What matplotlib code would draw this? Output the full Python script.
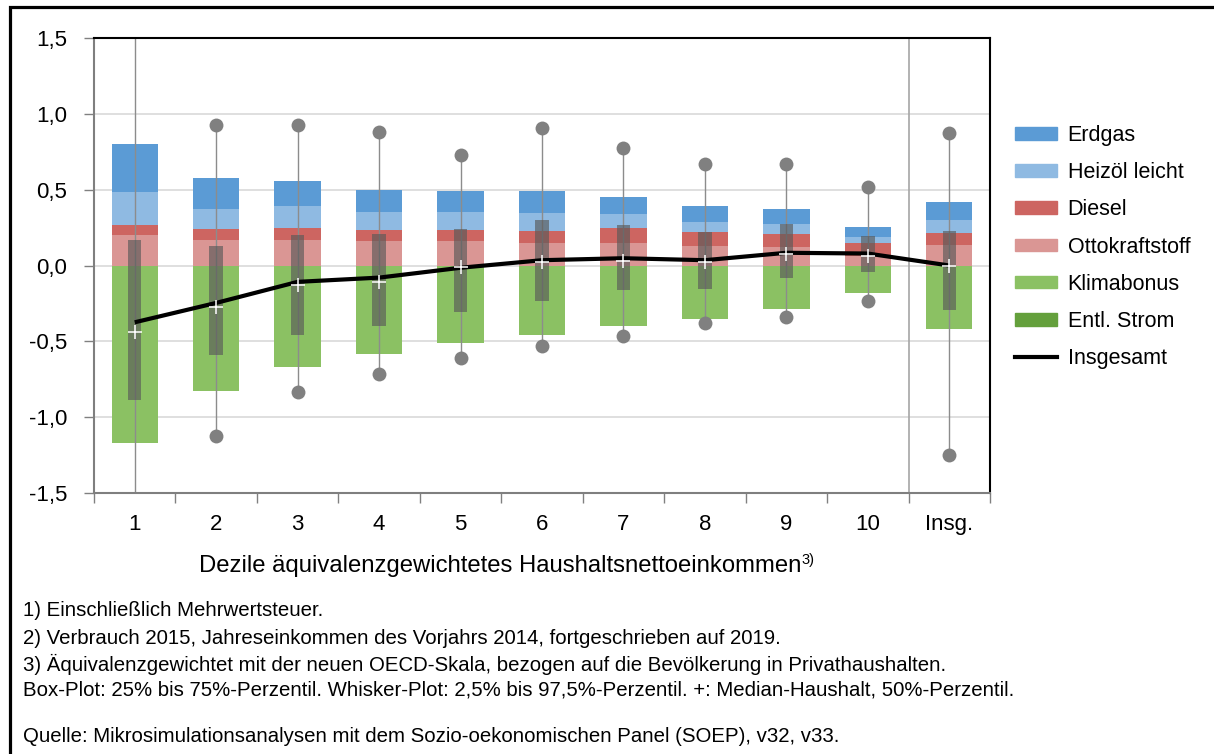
import numpy as np
import matplotlib
matplotlib.use("Agg")
from matplotlib import pyplot as plt
from matplotlib.patches import Patch, Rectangle
from matplotlib.lines import Line2D

plt.rcParams['font.family'] = ['Liberation Sans', 'DejaVu Sans']

# categories (income deciles + total)
categories = ['1', '2', '3', '4', '5', '6', '7', '8', '9', '10', 'Insg.']

# stacked components (positive part from 0 upwards: Otto, Diesel, Heizoel, Erdgas)
ottokraftstoff = [0.20, 0.17, 0.17, 0.165, 0.16, 0.15, 0.15, 0.13, 0.12, 0.06, 0.135]
diesel = [0.07, 0.07, 0.075, 0.07, 0.075, 0.08, 0.095, 0.09, 0.09, 0.09, 0.08]
heizoel = [0.215, 0.13, 0.145, 0.115, 0.115, 0.115, 0.095, 0.07, 0.065, 0.04, 0.085]
erdgas = [0.315, 0.205, 0.17, 0.15, 0.14, 0.145, 0.115, 0.10, 0.095, 0.065, 0.12]
# negative part
klimabonus = [-1.175, -0.826, -0.667, -0.583, -0.512, -0.457, -0.402, -0.351, -0.287, -0.179, -0.419]
entl_strom = [0.0, 0.0, 0.0, 0.0, 0.0, 0.0, 0.0, 0.0, 0.0, 0.0, 0.0]

# distribution (box/whisker) and total line
q25 = [-0.89, -0.59, -0.46, -0.397, -0.305, -0.234, -0.163, -0.152, -0.082, -0.042, -0.293]
q75 = [0.17, 0.13, 0.20, 0.21, 0.243, 0.302, 0.27, 0.223, 0.276, 0.194, 0.225]
median = [-0.44, -0.276, -0.13, -0.108, -0.01, 0.024, 0.029, 0.022, 0.079, 0.062, -0.005]
p025 = [-1.8, -1.126, -0.834, -0.717, -0.609, -0.53, -0.468, -0.382, -0.338, -0.232, -1.25]
p975 = [1.8, 0.927, 0.927, 0.879, 0.73, 0.907, 0.775, 0.671, 0.671, 0.519, 0.876]
insgesamt = [-0.375, -0.247, -0.108, -0.08, -0.015, 0.035, 0.048, 0.035, 0.084, 0.079, 0.0]

yticks = [1.5, 1.0, 0.5, 0.0, -0.5, -1.0, -1.5]
ytick_labels = ['1,5', '1,0', '0,5', '0,0', '-0,5', '-1,0', '-1,5']

footnotes = [
    '1) Einschließlich Mehrwertsteuer.',
    '2) Verbrauch 2015, Jahreseinkommen des Vorjahrs 2014, fortgeschrieben auf 2019.',
    '3) Äquivalenzgewichtet mit der neuen OECD-Skala, bezogen auf die Bevölkerung in Privathaushalten.',
    'Box-Plot: 25% bis 75%-Perzentil. Whisker-Plot: 2,5% bis 97,5%-Perzentil. +: Median-Haushalt, 50%-Perzentil.',
]
source = 'Quelle: Mikrosimulationsanalysen mit dem Sozio-oekonomischen Panel (SOEP), v32, v33.'

c_erdgas = '#5b9bd5'
c_heizoel = '#8fbae2'
c_diesel = '#cd6561'
c_otto = '#da9694'
c_klima = '#8bc163'
c_strom = '#64a03c'

W, H = 1214, 754
fig = plt.figure(figsize=(W / 100, H / 100), dpi=100)
ax = fig.add_axes([94 / W, 1 - 492.7 / H, (990 - 94) / W, (492.7 - 38.3) / H])

x = np.arange(1, len(categories) + 1)
bw = 0.57

# grid
for yv in [1.0, 0.5, 0.0, -0.5, -1.0]:
    ax.axhline(yv, color='#d9d9d9', lw=1.2, zorder=0)
ax.axvline(10.5, color='#a6a6a6', lw=1.2, zorder=0)

# stacked bars
b = np.zeros(len(x))
for vals, col in [(ottokraftstoff, c_otto), (diesel, c_diesel), (heizoel, c_heizoel), (erdgas, c_erdgas)]:
    ax.bar(x, vals, bw, bottom=b, color=col, zorder=1)
    b = b + np.array(vals)
ax.bar(x, klimabonus, bw, color=c_klima, zorder=1)
ax.bar(x, entl_strom, bw, bottom=klimabonus, color=c_strom, zorder=1)

# whiskers
for xi, lo, hi in zip(x, p025, p975):
    ax.plot([xi, xi], [lo, hi], color='#8c8c8c', lw=1.0, zorder=2)
    ax.plot([xi, xi], [lo, hi], 'o', color='#808080', ms=10, mec='none', zorder=2)

# boxes
ax.bar(x, np.array(q75) - np.array(q25), 0.165, bottom=q25, color='#595959', alpha=0.65, zorder=3)

# total line
ax.plot(x, insgesamt, color='black', lw=3, zorder=4, solid_capstyle='butt')

# median markers
ax.plot(x, median, '+', color='white', ms=9.5, mew=1.1, zorder=5)

ax.set_xlim(0.5, 11.5)
ax.set_ylim(-1.5, 1.5)
ax.set_yticks(yticks)
ax.set_yticklabels(ytick_labels, fontsize=16)
ax.set_xticks(np.arange(0.5, 12, 1))
ax.set_xticklabels([])
ax.set_xticks(x, minor=True)
ax.set_xticklabels(categories, minor=True, fontsize=16)
ax.tick_params(axis='x', which='major', length=7, color='#808080', width=1.0, direction='out')
ax.tick_params(axis='x', which='minor', length=0, pad=15)
ax.tick_params(axis='y', length=7, color='#808080', width=1.0, pad=12.5)

for s in ['left', 'bottom']:
    ax.spines[s].set_color('#7f7f7f')
    ax.spines[s].set_linewidth(1.5)
for s in ['top', 'right']:
    ax.spines[s].set_color('black')
    ax.spines[s].set_linewidth(1.5)

# legend
handles = [Patch(color=c_erdgas), Patch(color=c_heizoel), Patch(color=c_diesel),
           Patch(color=c_otto), Patch(color=c_klima), Patch(color=c_strom),
           Line2D([], [], color='black', lw=3)]
labels = ['Erdgas', 'Heizöl leicht', 'Diesel', 'Ottokraftstoff', 'Klimabonus', 'Entl. Strom', 'Insgesamt']
fig.legend(handles, labels, loc='upper left', bbox_to_anchor=(1006 / W, 1 - 116.5 / H),
           frameon=False, fontsize=15.5, handlelength=1.95, handleheight=0.54,
           labelspacing=0.75, handletextpad=0.51, borderaxespad=0)

# x axis label with superscript
t = fig.text(199 / W, 1 - 566 / H, 'Dezile äquivalenzgewichtetes Haushaltsnettoeinkommen',
             fontsize=17.2, va='center', ha='left')
fig.canvas.draw()
bb = t.get_window_extent()
fig.text(bb.x1 / W + 0.5 / W, 1 - 560 / H, '3)', fontsize=10.5, va='center', ha='left')

# footnotes
ys = [611, 638, 664, 690.5]
for yy, txt in zip(ys, footnotes):
    fig.text(23 / W, 1 - yy / H, txt, fontsize=14.7, va='center', ha='left')
fig.text(23 / W, 1 - 737 / H, source, fontsize=14.7, va='center', ha='left')

# outer frame
fig.patches.append(Rectangle((9.5 / W, -0.1), 1.2, 1 - 7.5 / H + 0.1, transform=fig.transFigure,
                             fill=False, edgecolor='black', lw=2.3, figure=fig))

fig.savefig('out.png', dpi=100)
